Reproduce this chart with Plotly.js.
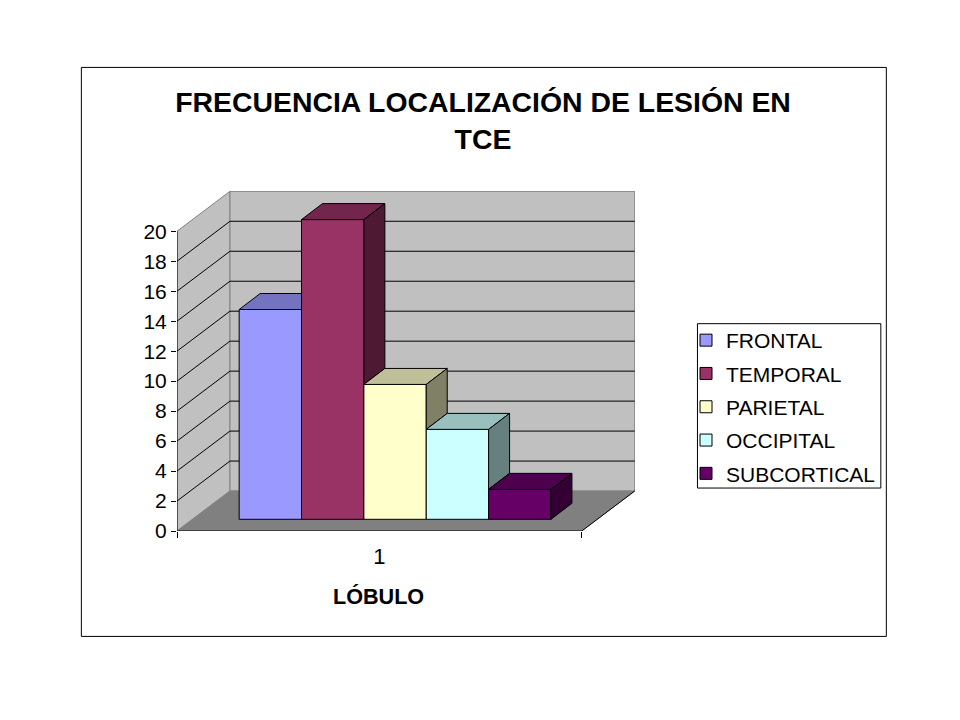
<!DOCTYPE html>
<html>
<head>
<meta charset="utf-8">
<script src="https://cdn.plot.ly/plotly-3.0.1.min.js"></script>
<style>html,body{margin:0;padding:0;background:#fff}</style>
</head>
<body>
<div id="chart" style="width:960px;height:720px"></div>
<script>
var categories = ['FRONTAL', 'TEMPORAL', 'PARIETAL', 'OCCIPITAL', 'SUBCORTICAL'];
var values = [14, 20, 9, 6, 2];
var frontColors = ['#9999FF', '#993366', '#FFFFCC', '#CCFFFF', '#660066'];
var topColors = ['#7373BF', '#73264D', '#BFBF99', '#99BFBF', '#4D004D'];
var sideColors = ['#4D4D80', '#4D1933', '#808066', '#668080', '#330033'];
var yTicks = [0, 2, 4, 6, 8, 10, 12, 14, 16, 18, 20];
var xLabel = '1';
var titleText = 'FRECUENCIA LOCALIZACIÓN DE LESIÓN EN<br>TCE';
var xTitleText = 'LÓBULO';

var W = 960, H = 720;
var L = 176.7, R = 635, T = 190.7, B = 531;
var catPx = 405, unitPx = 15;
var xMax = (R - L) / catPx, yMax = (B - T) / unitPx;
var wallDx = 53 / catPx, wallDy = 40 / unitPx;
var barDx = 21 / catPx, barDy = 16 / unitPx;
var barStart = 62.2 / catPx, barW = 62.4 / catPx, floorBase = 11.7 / unitPx;
var BLK = '#000000', GRY = '#808080';

function px(x) { return (x - L) / (R - L); }
function py(y) { return (B - y) / (B - T); }
function poly(pts) {
  return 'M' + pts.map(function (p) { return p[0] + ',' + p[1]; }).join('L') + 'Z';
}
function wallShape(pts, fill, lineColor) {
  return { type: 'path', xref: 'x', yref: 'y', layer: 'below', path: poly(pts), fillcolor: fill,
           line: { color: lineColor, width: 1 } };
}
function segShape(x0, y0, x1, y1, color, layer) {
  return { type: 'line', xref: 'x', yref: 'y', layer: layer || 'below', x0: x0, y0: y0, x1: x1, y1: y1,
           line: { color: color, width: 1 } };
}

var shapes = [
  wallShape([[0, 0], [wallDx, wallDy], [wallDx, 20 + wallDy], [0, 20]], '#C0C0C0', GRY),
  wallShape([[wallDx, wallDy], [1 + wallDx, wallDy], [1 + wallDx, 20 + wallDy], [wallDx, 20 + wallDy]], '#C0C0C0', GRY),
  wallShape([[0, 0], [1, 0], [1 + wallDx, wallDy], [wallDx, wallDy]], GRY, GRY)
];
yTicks.forEach(function (v) {
  if (v > 0 && v < 20) {
    shapes.push(segShape(0, v, wallDx, v + wallDy, BLK));
    shapes.push(segShape(wallDx, v + wallDy, 1 + wallDx, v + wallDy, BLK));
  }
});
shapes.push(segShape(0, 0, 0, 20, BLK));
shapes.push(segShape(0, 0, 1, 0, BLK));
shapes.push(segShape(1, 0, 1 + wallDx, wallDy, BLK));

// outer chart frame and legend frame
[[81, 67, 886.5, 636.5], [697.5, 323.5, 881, 488]].forEach(function (r) {
  shapes.push({ type: 'rect', xref: 'paper', yref: 'paper', layer: 'below',
    x0: px(r[0]), x1: px(r[2]), y0: py(r[3]), y1: py(r[1]),
    line: { color: BLK, width: 1 }, fillcolor: 'rgba(0,0,0,0)' });
});

var traces = [];
categories.forEach(function (name, i) {
  var x0 = barStart + i * barW;
  traces.push({
    type: 'bar', name: name, x: [x0 + barW / 2], y: [values[i]], base: [floorBase], width: [barW],
    marker: { color: frontColors[i], line: { color: BLK, width: 1 } },
    legendgroup: name, hoverinfo: 'name+y'
  });
});
function face(pts, color) {
  traces.push({
    type: 'scatter', mode: 'lines', x: pts.map(function (p) { return p[0]; }).concat(pts[0][0]),
    y: pts.map(function (p) { return p[1]; }).concat(pts[0][1]),
    fill: 'toself', fillcolor: color, line: { color: BLK, width: 1 },
    showlegend: false, hoverinfo: 'skip'
  });
}
categories.forEach(function (name, i) {
  var x0 = barStart + i * barW, x1 = x0 + barW, top = floorBase + values[i];
  var hasNext = i < values.length - 1;
  var nextTop = hasNext ? floorBase + values[i + 1] : floorBase;
  // top face: a taller neighbour hides everything right of the shared edge
  if (hasNext && nextTop > top) {
    face([[x0, top], [x1, top], [x1, top + barDy], [x0 + barDx, top + barDy]], topColors[i]);
  } else {
    face([[x0, top], [x1, top], [x1 + barDx, top + barDy], [x0 + barDx, top + barDy]], topColors[i]);
  }
  // side face: only the part above the neighbour's top is visible
  if (top > nextTop) {
    face([[x1, top], [x1 + barDx, top + barDy], [x1 + barDx, nextTop + barDy], [x1, nextTop]], sideColors[i]);
  }
});

var FONT = 'Liberation Sans, Arial, sans-serif';
var layout = {
  width: W, height: H, autosize: false,
  paper_bgcolor: '#FFFFFF', plot_bgcolor: 'rgba(0,0,0,0)',
  margin: { l: L, r: W - R, t: T, b: H - B, pad: 0 },
  barmode: 'overlay', shapes: shapes,
  font: { family: FONT, color: BLK, size: 21 },
  title: { text: '<b>' + titleText + '</b>', x: 483 / W, xref: 'container', xanchor: 'center',
           y: 1 - 112 / H, yref: 'container', yanchor: 'top', font: { family: FONT, size: 28.4, color: BLK } },
  annotations: [{
    text: '<b>' + xTitleText + '</b>', xref: 'x', yref: 'paper', x: 0.497, y: py(597), xanchor: 'center', yanchor: 'middle',
    showarrow: false, font: { size: 21.6, family: FONT, color: BLK }
  }],
  xaxis: {
    range: [0, xMax], showgrid: false, zeroline: false, showline: false, fixedrange: true,
    tickmode: 'array', tickvals: [0.5], ticktext: [xLabel], ticks: '', tickfont: { size: 22, family: FONT },
    ticklabelstandoff: 10,
    minor: { tickmode: 'array', tickvals: [0, 1], ticks: 'outside', ticklen: 6, tickcolor: BLK, tickwidth: 1, showgrid: false }
  },
  yaxis: {
    range: [0, yMax], showgrid: false, zeroline: false, showline: false, fixedrange: true,
    tickmode: 'array', tickvals: yTicks, ticks: 'outside', ticklen: 5, tickcolor: BLK, tickwidth: 1,
    tickfont: { size: 21, family: FONT }
  },
  legend: {
    xref: 'container', yref: 'container', x: 686 / W, xanchor: 'left', y: 1 - 320 / H, yanchor: 'top',
    bgcolor: 'rgba(0,0,0,0)', borderwidth: 0, traceorder: 'grouped', tracegroupgap: 3,
    font: { size: 21, family: FONT, color: BLK }
  },
  showlegend: true
};
Plotly.newPlot('chart', traces, layout, { displayModeBar: false, staticPlot: true });
</script>
</body>
</html>
